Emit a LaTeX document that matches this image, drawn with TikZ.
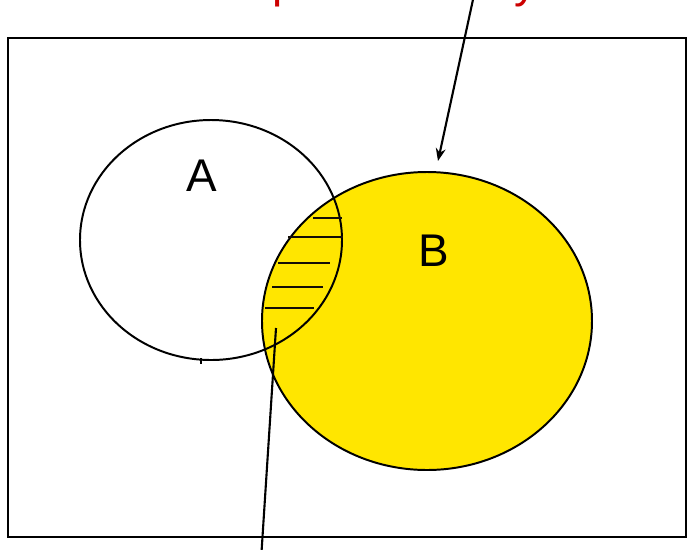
\documentclass[tikz,border=0pt]{standalone}
\usepackage{fontspec}
\setmainfont{Liberation Sans}
\usetikzlibrary{arrows.meta}
\definecolor{setyellow}{RGB}{255,230,0}
\definecolor{notered}{RGB}{204,0,0}
\tikzset{
  setline/.style={line width=1.4pt},
  hatch/.style={line width=1.7pt,black!90!brown},
  setlabel/.style={font=\fontsize{32.6}{36}\selectfont,inner sep=0pt}
}
\begin{document}
\begin{tikzpicture}[x=0.025cm,y=-0.025cm,>={Stealth[length=9pt,width=7pt]},thick]
\useasboundingbox (0,0) rectangle (687,549);
% frame
\draw[line width=1.6pt] (8,38) rectangle (686,537);
% note at the top, cut off by the page
\node[anchor=base west,text=notered,inner sep=0pt,font=\fontsize{32.6}{36}\selectfont] (note) at (128,-2.5) {Yellow part is B only};
% the two sets
\fill[setyellow] (427,321) ellipse [x radius=165,y radius=149];
\draw[setline] (427,321) ellipse [x radius=165,y radius=149];
\draw[setline] (211,240) ellipse [x radius=131,y radius=120];
\draw[setline] (201,358) -- (201,364);
\node[setlabel] (labA) at (202,176) {A};
\node[setlabel] (labB) at (434,251) {B};
% hatching of the common part
\draw[hatch] (313,218) -- (342,218);
\draw[hatch] (288,237) -- (343,237);
\draw[hatch] (278,263) -- (330,263);
\draw[hatch] (272,287) -- (323,287);
\draw[hatch] (265,308) -- (314,308);
% pointers
\coordinate (topfree) at (474,-5);
\coordinate (tipB) at (438,161);
\coordinate (lensin) at (276,328);
\coordinate (botfree) at (261,560);
\draw[->,line width=1.5pt] (topfree) -- (tipB);
\draw[line width=1.5pt] (lensin) -- (botfree);
\end{tikzpicture}
\end{document}
